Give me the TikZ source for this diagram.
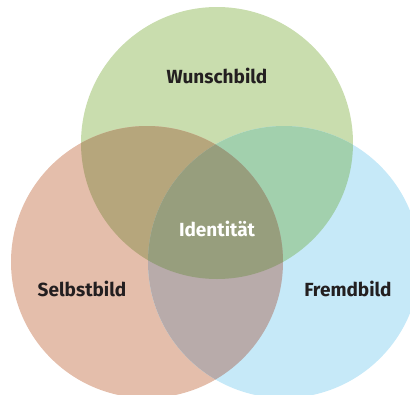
\documentclass[tikz,border=0pt]{standalone}
\usepackage{fontspec}
\setmainfont{Fira Sans}
\definecolor{cG}{HTML}{C9DDAE}
\definecolor{cR}{HTML}{E4BEAB}
\definecolor{cB}{HTML}{C6E9F8}
\definecolor{cGR}{HTML}{B6A67C}
\definecolor{cGB}{HTML}{A2D0AD}
\definecolor{cRB}{HTML}{B8ABAA}
\definecolor{cGRB}{HTML}{979E7D}
\definecolor{txt}{HTML}{231F20}
\begin{document}
\begin{tikzpicture}[x=1pt,y=-1pt,
  lbl/.style={font=\fontsize{19}{22}\selectfont\bfseries, text=txt, inner sep=0pt}]
\useasboundingbox (0,0) rectangle (410,394);
\clip (0,0) rectangle (410,394);
\def\circG{(217,143) circle[radius=136]}
\def\circR{(147,262) circle[radius=136]}
\def\circB{(284,262) circle[radius=136]}
\fill[cG] \circG;
\fill[cR] \circR;
\fill[cB] \circB;
\begin{scope}\clip \circG; \fill[cGR] \circR; \fill[cGB] \circB; \end{scope}
\begin{scope}\clip \circR; \fill[cRB] \circB; \end{scope}
\begin{scope}\clip \circG; \clip \circR; \fill[cGRB] \circB; \end{scope}
\node[lbl] (wunsch) at (217,76) {Wunschbild};
\node[lbl, text=white] (ident) at (217,229) {Identität};
\node[lbl] (selbst) at (82,289) {Selbstbild};
\node[lbl] (fremd) at (348,289) {Fremdbild};
\end{tikzpicture}
\end{document}
